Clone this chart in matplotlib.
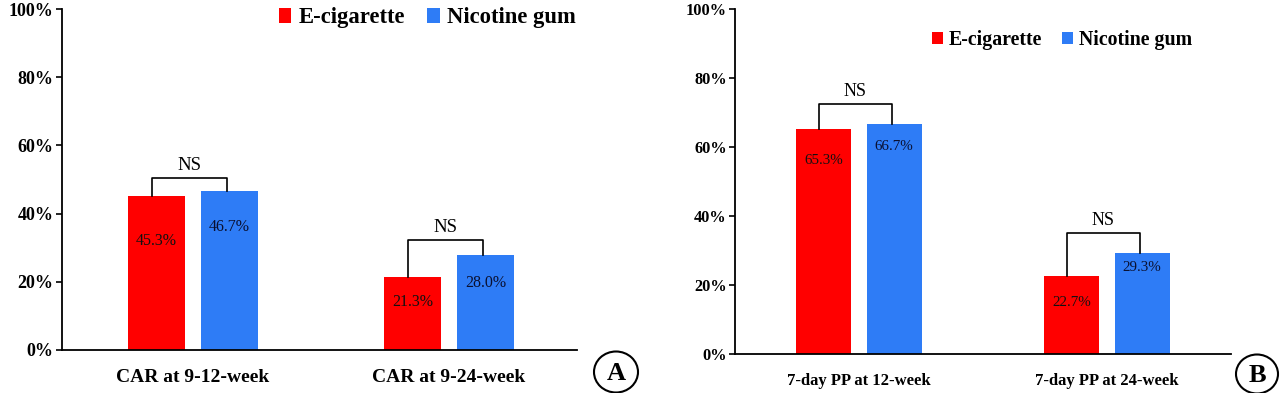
import matplotlib
matplotlib.use("Agg")
import matplotlib.pyplot as plt
from matplotlib.patches import Ellipse

# ---- data ----
series = ["E-cigarette", "Nicotine gum"]
cats_a = ["CAR at 9-12-week", "CAR at 9-24-week"]
ecig_a = [45.3, 21.3]
gum_a = [46.7, 28.0]
cats_b = ["7-day PP at 12-week", "7-day PP at 24-week"]
ecig_b = [65.3, 22.7]
gum_b = [66.7, 29.3]
sig_a = ["NS", "NS"]
sig_b = ["NS", "NS"]
yticks = [0, 20, 40, 60, 80, 100]
panel_letters = ["A", "B"]

RED = "#FF0000"
BLUE = "#2E7CF6"
FONT = "Liberation Serif"

plt.rcParams["font.family"] = [FONT, "DejaVu Serif"]

W, H = 1280, 393
fig = plt.figure(figsize=(W / 100, H / 100), dpi=100)


def fx(px):
    return px / W


def fy(py):
    return 1 - py / H


def panel(rect, cats, e, g, sig, xlim, sizes, lab_off_e, lab_off_g, bracket, ns_gap, leg_anchor, colsp):
    tick_fs, cat_fs, val_fs, ns_fs, leg_fs = sizes
    ax = fig.add_axes(rect)
    width = 0.222
    off = 0.142
    x = list(range(len(cats)))
    xe = [i - off for i in x]
    xg = [i + off for i in x]
    ax.bar(xe, e, width, color=RED, label=series[0])
    ax.bar(xg, g, width, color=BLUE, label=series[1])
    ax.set_xlim(*xlim)
    ax.set_ylim(0, 100)
    ax.set_yticks(yticks)
    ax.set_yticklabels([f"{t}%" for t in yticks], fontsize=tick_fs, fontweight="bold")
    ax.set_xticks(x)
    ax.set_xticklabels(cats, fontsize=cat_fs, fontweight="bold")
    ax.tick_params(axis="x", length=0, pad=14)
    ax.tick_params(axis="y", length=4, width=1.2, direction="out", pad=2)
    for s in ["top", "right"]:
        ax.spines[s].set_visible(False)
    for s in ["left", "bottom"]:
        ax.spines[s].set_linewidth(1.3)
    for i in x:
        ax.text(xe[i], e[i] - lab_off_e[i], f"{e[i]:.1f}%", ha="center", va="center",
                fontsize=val_fs, color="#111111")
        ax.text(xg[i], g[i] - lab_off_g[i], f"{g[i]:.1f}%", ha="center", va="center",
                fontsize=val_fs, color="#0A1030")
        top = max(e[i], g[i]) + bracket[i]
        lx = xe[i] - 0.02
        rx = xg[i] - 0.01
        ax.plot([lx, lx, rx, rx], [e[i], top, top, g[i]], color="black", lw=1.2)
        ax.text((lx + rx) / 2, top + ns_gap, sig[i], ha="center", va="bottom", fontsize=ns_fs)
    ax.legend(loc="center left", bbox_to_anchor=leg_anchor, bbox_transform=fig.transFigure,
              ncol=2, frameon=False, borderpad=0, borderaxespad=0,
              handlelength=0.55, handleheight=0.6, handletextpad=0.3, columnspacing=colsp,
              prop={"family": FONT, "weight": "bold", "size": leg_fs})
    return ax


panel([fx(62), fy(350), fx(577) - fx(62), fy(9) - fy(350)], cats_a, ecig_a, gum_a, sig_a,
      (-0.512, 1.5), (13, 14, 11.5, 13.5, 16.3),
      [13.3, 7.3], [10.7, 8.4], [3.7, 4.3], 1.2, (fx(279), fy(18)), 1.0)

panel([fx(735), fy(354), fx(1231) - fx(735), fy(9) - fy(354)], cats_b, ecig_b, gum_b, sig_b,
      (-0.5, 1.5), (11.8, 12, 10.8, 13, 14.3),
      [9.1, 7.7], [6.7, 4.1], [5.8, 5.7], 1.2, (fx(932), fy(40)), 1.0)

for letter, (cx, cy, ew, eh) in zip(panel_letters, [(616, 372, 44, 41), (1257, 374, 42, 39)]):
    fig.patches.append(Ellipse((fx(cx), fy(cy)), ew / W, eh / H, transform=fig.transFigure,
                               facecolor="white", edgecolor="black", lw=1.5))
    fig.text(fx(cx), fy(cy) - 0.004, letter, ha="center", va="center", fontsize=19, fontweight="bold")

fig.savefig("out.png", dpi=100)
